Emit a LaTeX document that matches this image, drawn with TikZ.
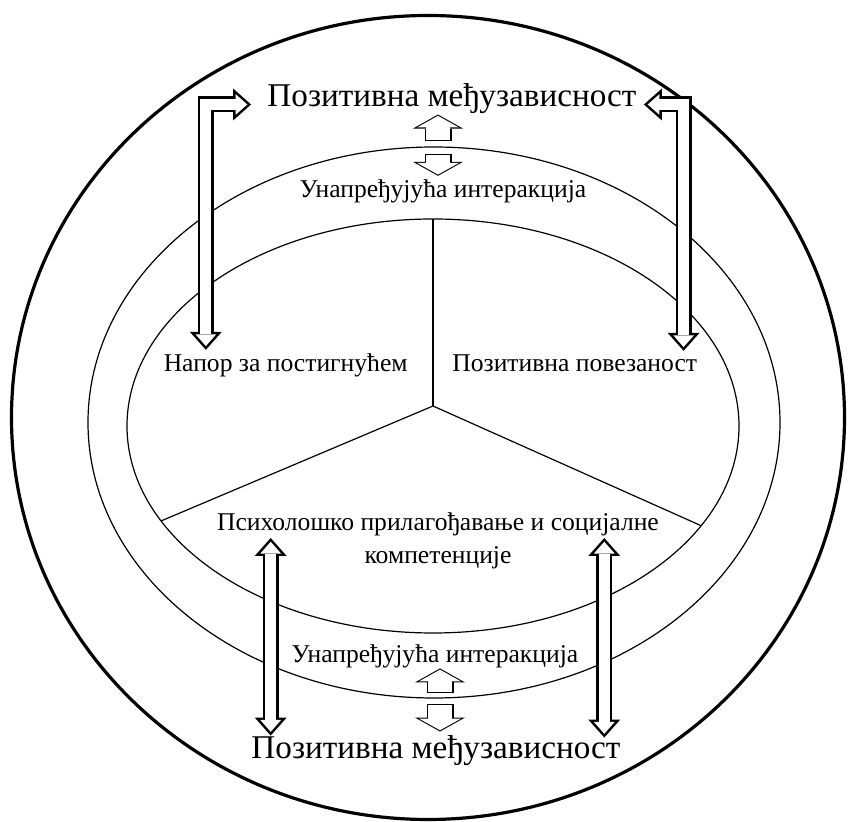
\documentclass[tikz,border=0pt]{standalone}
\usepackage{fontspec}
\setmainfont{Liberation Serif}
\usetikzlibrary{arrows.meta, positioning, calc}

\tikzset{
  bigtext/.style={inner sep=2pt, font=\fontsize{16.6}{19}\selectfont},
  midtext/.style={inner sep=2pt, font=\fontsize{12.8}{16.5}\selectfont},
  ring/.style={draw, line width=0.6pt},
  bigarrow/.style={draw, line width=8pt,
    {Triangle[width=16pt, length=9pt, line width=0pt]}-{Triangle[width=16pt, length=9pt, line width=0pt]},
    postaction={draw, white, line width=5.5pt, shorten <=1.88pt, shorten >=1.88pt,
      {Triangle[width=10.4pt, length=5.9pt, line width=0pt]}-{Triangle[width=10.4pt, length=5.9pt, line width=0pt]}}},
  smallarrow/.style={draw, line width=13.5pt,
    -{Triangle[width=25pt, length=7pt, line width=0pt]},
    postaction={draw, white, line width=12.4pt, shorten <=0.55pt, shorten >=0.63pt,
      -{Triangle[width=20.8pt, length=5.8pt, line width=0pt]}}}
}

\begin{document}
\begin{tikzpicture}[x=0.5pt, y=-0.5pt]
    \useasboundingbox (0,0) rectangle (848,822);

    % rings
    \draw[line width=1.6pt] (428,417.5) ellipse [x radius=416.5, y radius=402];
    \draw[ring] (434,422.5) ellipse [x radius=346, y radius=275.5];
    \coordinate (c) at (433,426);
    \draw[ring] (c) ellipse [x radius=306, y radius=207];

    % spokes
    \coordinate (hub) at ($(c)+(0,-20)$);
    \draw[ring] (hub) -- ($(c)+(-90:306 and 207)$);
    \draw[ring] (hub) -- ($(c)+(152.7:306 and 207)$);
    \draw[ring] (hub) -- ($(c)+(28.8:306 and 207)$);

    \node[bigtext, anchor=base] (pmz) at (452,107) {Позитивна међузависност};
    \node[midtext, anchor=base] (una) at (443,198) {Унапређујућа интеракција};
    \node[midtext, anchor=base east] (napor) at (412,372) {Напор за постигнућем};
    \node[midtext, anchor=base west] (povez) at (448,372) {Позитивна повезаност};
    \node[midtext, align=center] (psych) at (438,541) {Психолошко прилагођавање и социјалне\\компетенције};
    \node[midtext, anchor=base] (unb) at (435,663) {Унапређујућа интеракција};
    \node[bigtext, anchor=base] (pmzb) at (436,759) {Позитивна међузависност};

    \draw[bigarrow] ($(pmz.base west)+(-12,-2.5)$) -| ($(napor.north west)+(46.5,0)$);
    \draw[bigarrow] ($(pmz.base east)+(3,-2.5)$) -| ($(povez.north east)+(-18,0)$);
    \draw[bigarrow] ($(psych.west)+(58,-3)$) -- ($(psych.west |- pmzb.north)+(58,4)$);
    \draw[bigarrow] ($(psych.east)+(-59,-3)$) -- ($(psych.east |- pmzb.north)+(-59,6)$);

    \coordinate (etop) at (438,147.5);
    \coordinate (ebot) at (440,698.5);
    \draw[smallarrow] ($(etop)+(0,-6)$) -- ($(etop |- pmz.south)+(0,-4)$);
    \draw[smallarrow] ($(etop)+(0,6.5)$) -- (etop |- una.north);
    \draw[smallarrow] ($(ebot)+(0,-5.5)$) -- ($(ebot |- unb.south)+(0,-4.5)$);
    \draw[smallarrow] ($(ebot)+(0,5.5)$) -- (ebot |- pmzb.north);
\end{tikzpicture}
\end{document}
